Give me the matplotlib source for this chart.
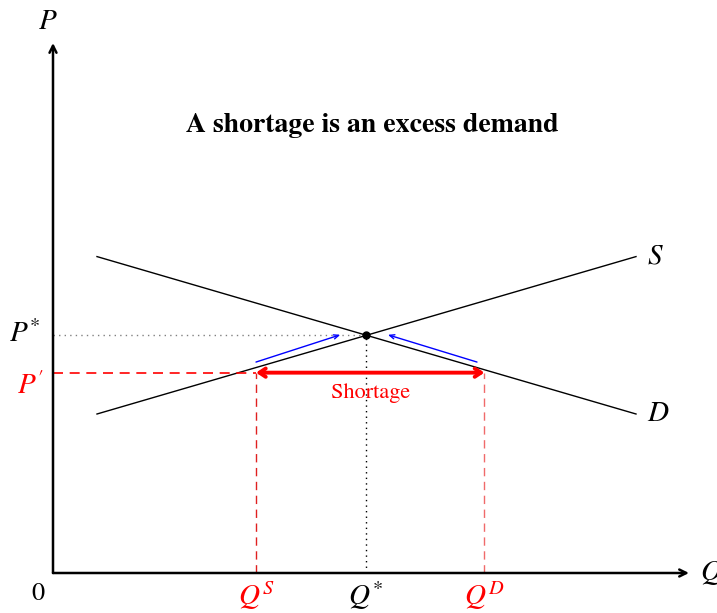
import matplotlib
matplotlib.use("Agg")
import matplotlib.pyplot as plt

plt.rcParams['mathtext.fontset'] = 'stix'
plt.rcParams['font.family'] = ['STIXGeneral', 'DejaVu Serif']

# Data (in diagram units)
supply_x = [0.415, 5.5]
supply_y = [1.5, 2.985]
demand_x = [0.415, 5.5]
demand_y = [2.985, 1.5]
eq_q, eq_p = 2.95, 2.25
p_prime = 1.89
q_s = 1.915
q_d = 4.07
axis_len_x, axis_len_y = 6.0, 5.0
labels = {"S": "$S$", "D": "$D$", "P": "$P$", "Q": "$Q$"}
title = "A shortage is an excess demand"
shortage_label = "Shortage"

W, H = 717, 613
s = 106.0
ox, oy = 53, 573
fig = plt.figure(figsize=(W / 100, H / 100), dpi=100)
ax = fig.add_axes([0, 0, 1, 1])
ax.set_xlim(-ox / s, (W - ox) / s)
ax.set_ylim(-(H - oy) / s, oy / s)
ax.axis('off')

# axes arrows
for end in [(axis_len_x, 0), (0, axis_len_y)]:
    ax.annotate('', xy=end, xytext=(0, 0),
                arrowprops=dict(arrowstyle='->,head_length=0.5,head_width=0.25', lw=1.8,
                                color='black', shrinkA=0, shrinkB=0))

# curves
ax.plot(supply_x, supply_y, color='black', lw=1.0)
ax.plot(demand_x, demand_y, color='black', lw=1.0)
ax.text(supply_x[1] + 0.1, supply_y[1], labels["S"], fontsize=21, va='center', ha='left')
ax.text(demand_x[1] + 0.1, demand_y[1], labels["D"], fontsize=21, va='center', ha='left')

# equilibrium guides
ax.plot([0, eq_q], [eq_p, eq_p], color='gray', lw=1.0, ls=(0, (1, 3)))
ax.plot([eq_q, eq_q], [0, eq_p], color='black', lw=1.0, ls=(0, (1, 3)))
ax.plot(eq_q, eq_p, 'o', color='black', ms=5)

# price ceiling lines
ax.plot([0, q_s], [p_prime, p_prime], color='red', lw=1.2, ls=(0, (6, 4)))
ax.plot([q_s, q_s], [0, p_prime], color='#e02020', lw=1.0, ls=(0, (6, 4)))
ax.plot([q_d, q_d], [0, p_prime], color='#f06a6a', lw=1.0, ls=(0, (6, 4)))

# shortage arrow
ax.annotate('', xy=(q_d, p_prime), xytext=(q_s, p_prime),
            arrowprops=dict(arrowstyle='<->,head_length=0.45,head_width=0.3', lw=2.8, color='red',
                            shrinkA=0, shrinkB=0))
ax.text((q_s + q_d) / 2, p_prime - 0.19, shortage_label, color='red', fontsize=16,
        ha='center', va='center')

# blue adjustment arrows
ax.annotate('', xy=(2.71, 2.247), xytext=(1.915, 1.99),
            arrowprops=dict(arrowstyle='->,head_length=0.35,head_width=0.15', lw=1.0, color='blue',
                            shrinkA=0, shrinkB=0))
ax.annotate('', xy=(3.16, 2.247), xytext=(4.0, 1.99),
            arrowprops=dict(arrowstyle='->,head_length=0.35,head_width=0.15', lw=1.0, color='blue',
                            shrinkA=0, shrinkB=0))

# axis labels
ax.text(-0.05, 5.08, labels["P"], fontsize=21, ha='center', va='bottom')
ax.text(6.1, 0, labels["Q"], fontsize=21, ha='left', va='center')
ax.text(-0.12, eq_p, '$P^{*}$', fontsize=21, ha='right', va='center')
ax.text(-0.08, p_prime - 0.13, "$P'$", fontsize=21, ha='right', va='center', color='red')
ax.text(-0.07, -0.2, '$0$', fontsize=19, ha='right', va='center')
ax.text(q_s, -0.06, '$Q^{S}$', fontsize=21, ha='center', va='top', color='red')
ax.text(eq_q, -0.06, '$Q^{*}$', fontsize=21, ha='center', va='top')
ax.text(q_d, -0.06, '$Q^{D}$', fontsize=21, ha='center', va='top', color='red')

ax.text((372 - ox) / s, (oy - 126) / s, title, fontsize=20, fontweight='bold',
        ha='center', va='center')

fig.savefig('out.png', dpi=100)
